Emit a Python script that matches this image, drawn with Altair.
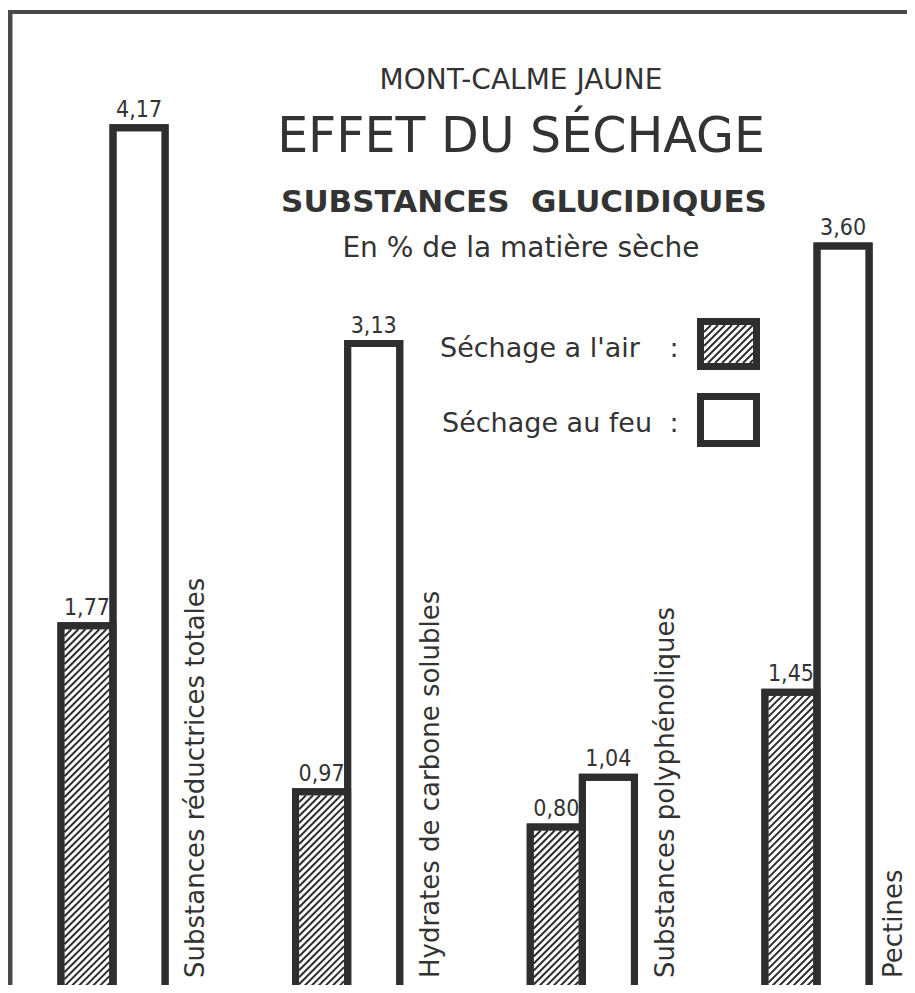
import altair as alt
import pandas as pd

# ---------------- data ----------------
categories = [
    "Substances réductrices totales",
    "Hydrates de carbone solubles",
    "Substances polyphénoliques",
    "Pectines",
]
air_values = [1.77, 0.97, 0.80, 1.45]   # Séchage à l'air (hatched)
feu_values = [4.17, 3.13, 1.04, 3.60]   # Séchage au feu (white)
series_names = ["Séchage a l'air", "Séchage au feu"]

title_1 = "MONT-CALME JAUNE"
title_2 = "EFFET DU SÉCHAGE"
title_3 = "SUBSTANCES\u00a0\u00a0GLUCIDIQUES"
title_4 = "En % de la matière sèche"

# ---------------- layout / scales ----------------
W, H = 899, 977
X_DOMAIN = [0, 3]
X_RANGE = [105, 809]
Y_DOMAIN = [0, 5]
Y_RANGE = [985, 985 - 5 * 207.5]
PX_X = (X_RANGE[1] - X_RANGE[0]) / (X_DOMAIN[1] - X_DOMAIN[0])
PX_Y = (Y_RANGE[0] - Y_RANGE[1]) / (Y_DOMAIN[1] - Y_DOMAIN[0])


def to_px_x(u):
    return X_RANGE[0] + (u - X_DOMAIN[0]) * PX_X


def to_px_y(v):
    return Y_RANGE[0] - (v - Y_DOMAIN[0]) * PX_Y


def from_px_x(p):
    return X_DOMAIN[0] + (p - X_RANGE[0]) / PX_X


def from_px_y(p):
    return Y_DOMAIN[0] + (Y_RANGE[0] - p) / PX_Y


xs = alt.Scale(domain=X_DOMAIN, range=X_RANGE, nice=False, zero=False)
ys = alt.Scale(domain=Y_DOMAIN, range=Y_RANGE, nice=False, zero=False)

INK = "#2e2e2e"
TEXT = "#333333"
FONT = "DejaVu Sans"
NUM_FONT = "DejaVu Sans Condensed, Liberation Sans Narrow, DejaVu Sans"
HALF = 0.222
BORDER = 7


def fmt(v):
    return f"{v:.2f}".replace(".", ",")


rows = []
for g, (a, f) in enumerate(zip(air_values, feu_values)):
    rows.append(dict(g=g, series=series_names[0], x0=g - HALF, x1=g, v=a,
                     label=fmt(a), xc=g - HALF / 2))
    rows.append(dict(g=g, series=series_names[1], x0=g, x1=g + HALF, v=f,
                     label=fmt(f), xc=g + HALF / 2))
bars = pd.DataFrame(rows)


def hatch_px(left, right, top, bottom, step=7.0):
    segs = []
    c = left + top
    while c < right + bottom:
        xa = max(left, c - bottom)
        xb = min(right, c - top)
        if xb - xa > 0.5:
            segs.append((xa, c - xa, xb, c - xb))
        c += step
    return segs


inset = BORDER / 2
hatch_rows = []
for _, r in bars[bars.series == series_names[0]].iterrows():
    segs = hatch_px(to_px_x(r.x0) + inset, to_px_x(r.x1) - inset,
                    to_px_y(r.v) + inset, to_px_y(0))
    for (xa, ya, xb, yb) in segs:
        hatch_rows.append(dict(hx=from_px_x(xa), hy=from_px_y(ya),
                               hx2=from_px_x(xb), hy2=from_px_y(yb)))

# legend boxes (pixel placement converted through the same scales)
leg_boxes_px = [(692.5, 748.5, 313.5, 358.5),
                (692.5, 748.5, 388.5, 435.5)]
leg_rows = []
for (l, r_, t, b), s in zip(leg_boxes_px, series_names):
    leg_rows.append(dict(series=s, x0=from_px_x(l), x1=from_px_x(r_),
                         v=from_px_y(t), vb=from_px_y(b)))
legend_df = pd.DataFrame(leg_rows)
l, r_, t, b = leg_boxes_px[0]
for (xa, ya, xb, yb) in hatch_px(l + inset, r_ - inset, t + inset, b - inset):
    hatch_rows.append(dict(hx=from_px_x(xa), hy=from_px_y(ya),
                           hx2=from_px_x(xb), hy2=from_px_y(yb)))
hatch = pd.DataFrame(hatch_rows)

base_bars = alt.Chart(bars).encode(
    x=alt.X("x0:Q", scale=xs, axis=None),
    x2="x1:Q",
    y=alt.Y("v:Q", scale=ys, axis=None),
    y2=alt.datum(0),
)
bar_fill = base_bars.mark_rect(fill="white", stroke=INK, strokeWidth=BORDER, clip=True)
bar_edge = base_bars.mark_rect(fill="white", fillOpacity=0, stroke=INK,
                               strokeWidth=BORDER, clip=True)

hatch_layer = alt.Chart(hatch).mark_rule(color=INK, strokeWidth=2, clip=True).encode(
    x=alt.X("hx:Q", scale=xs, axis=None),
    y=alt.Y("hy:Q", scale=ys, axis=None),
    x2="hx2:Q",
    y2="hy2:Q",
)

legend_base = alt.Chart(legend_df).encode(
    x=alt.X("x0:Q", scale=xs, axis=None), x2="x1:Q",
    y=alt.Y("v:Q", scale=ys, axis=None), y2="vb:Q",
)
legend_fill = legend_base.mark_rect(fill="white", stroke=INK, strokeWidth=BORDER)
legend_edge = legend_base.mark_rect(fill="white", fillOpacity=0, stroke=INK,
                                    strokeWidth=BORDER)

value_labels = alt.Chart(bars).mark_text(
    font=NUM_FONT, fontSize=23, color=TEXT, baseline="alphabetic", dy=-11
).encode(
    x=alt.X("xc:Q", scale=xs, axis=None),
    y=alt.Y("v:Q", scale=ys, axis=None),
    text="label:N",
)

cat_df = pd.DataFrame({"cat": categories, "g": list(range(len(categories)))})
cat_df["xl"] = (cat_df["g"] + 0.355).clip(upper=from_px_x(886))
cat_labels = alt.Chart(cat_df).mark_text(
    font=FONT, fontSize=26, color=TEXT, angle=270, align="left", baseline="middle"
).encode(
    x=alt.X("xl:Q", scale=xs, axis=None),
    y=alt.value(970),
    text="cat:N",
)


def txt(s, x, y, size, weight="normal", align="center", font=FONT):
    return alt.Chart(pd.DataFrame({"t": [s]})).mark_text(
        font=font, fontSize=size, fontWeight=weight, color=TEXT,
        align=align, baseline="alphabetic"
    ).encode(x=alt.value(x), y=alt.value(y), text="t:N")


titles = [
    txt(title_1, 513, 81, 28),
    txt(title_2, 513, 144, 49),
    txt(title_3, 516, 204, 31, weight="bold"),
    txt(title_4, 513, 249, 28),
    txt(series_names[0], 432, 349, 27, align="left"),
    txt(":", 666, 349, 27),
    txt(series_names[1], 434, 424, 27, align="left"),
    txt(":", 666, 424, 27),
]

frame_top = alt.Chart(pd.DataFrame({"a": [0]})).mark_rule(color="#4a4a4a", strokeWidth=4).encode(
    x=alt.value(0), x2=alt.value(W), y=alt.value(4)
)
frame_left = alt.Chart(pd.DataFrame({"a": [0]})).mark_rule(color="#4a4a4a", strokeWidth=5).encode(
    x=alt.value(2), y=alt.value(2), y2=alt.value(H)
)

chart = alt.layer(
    frame_top, frame_left,
    bar_fill, legend_fill,
    hatch_layer,
    bar_edge, legend_edge,
    value_labels, cat_labels,
    *titles,
).properties(
    width=W, height=H,
    autosize=alt.AutoSizeParams(type="none"),
    padding=0,
    background="white",
).configure_view(stroke=None)

chart.save("out.html", embed_options={"renderer": "svg", "actions": False})
